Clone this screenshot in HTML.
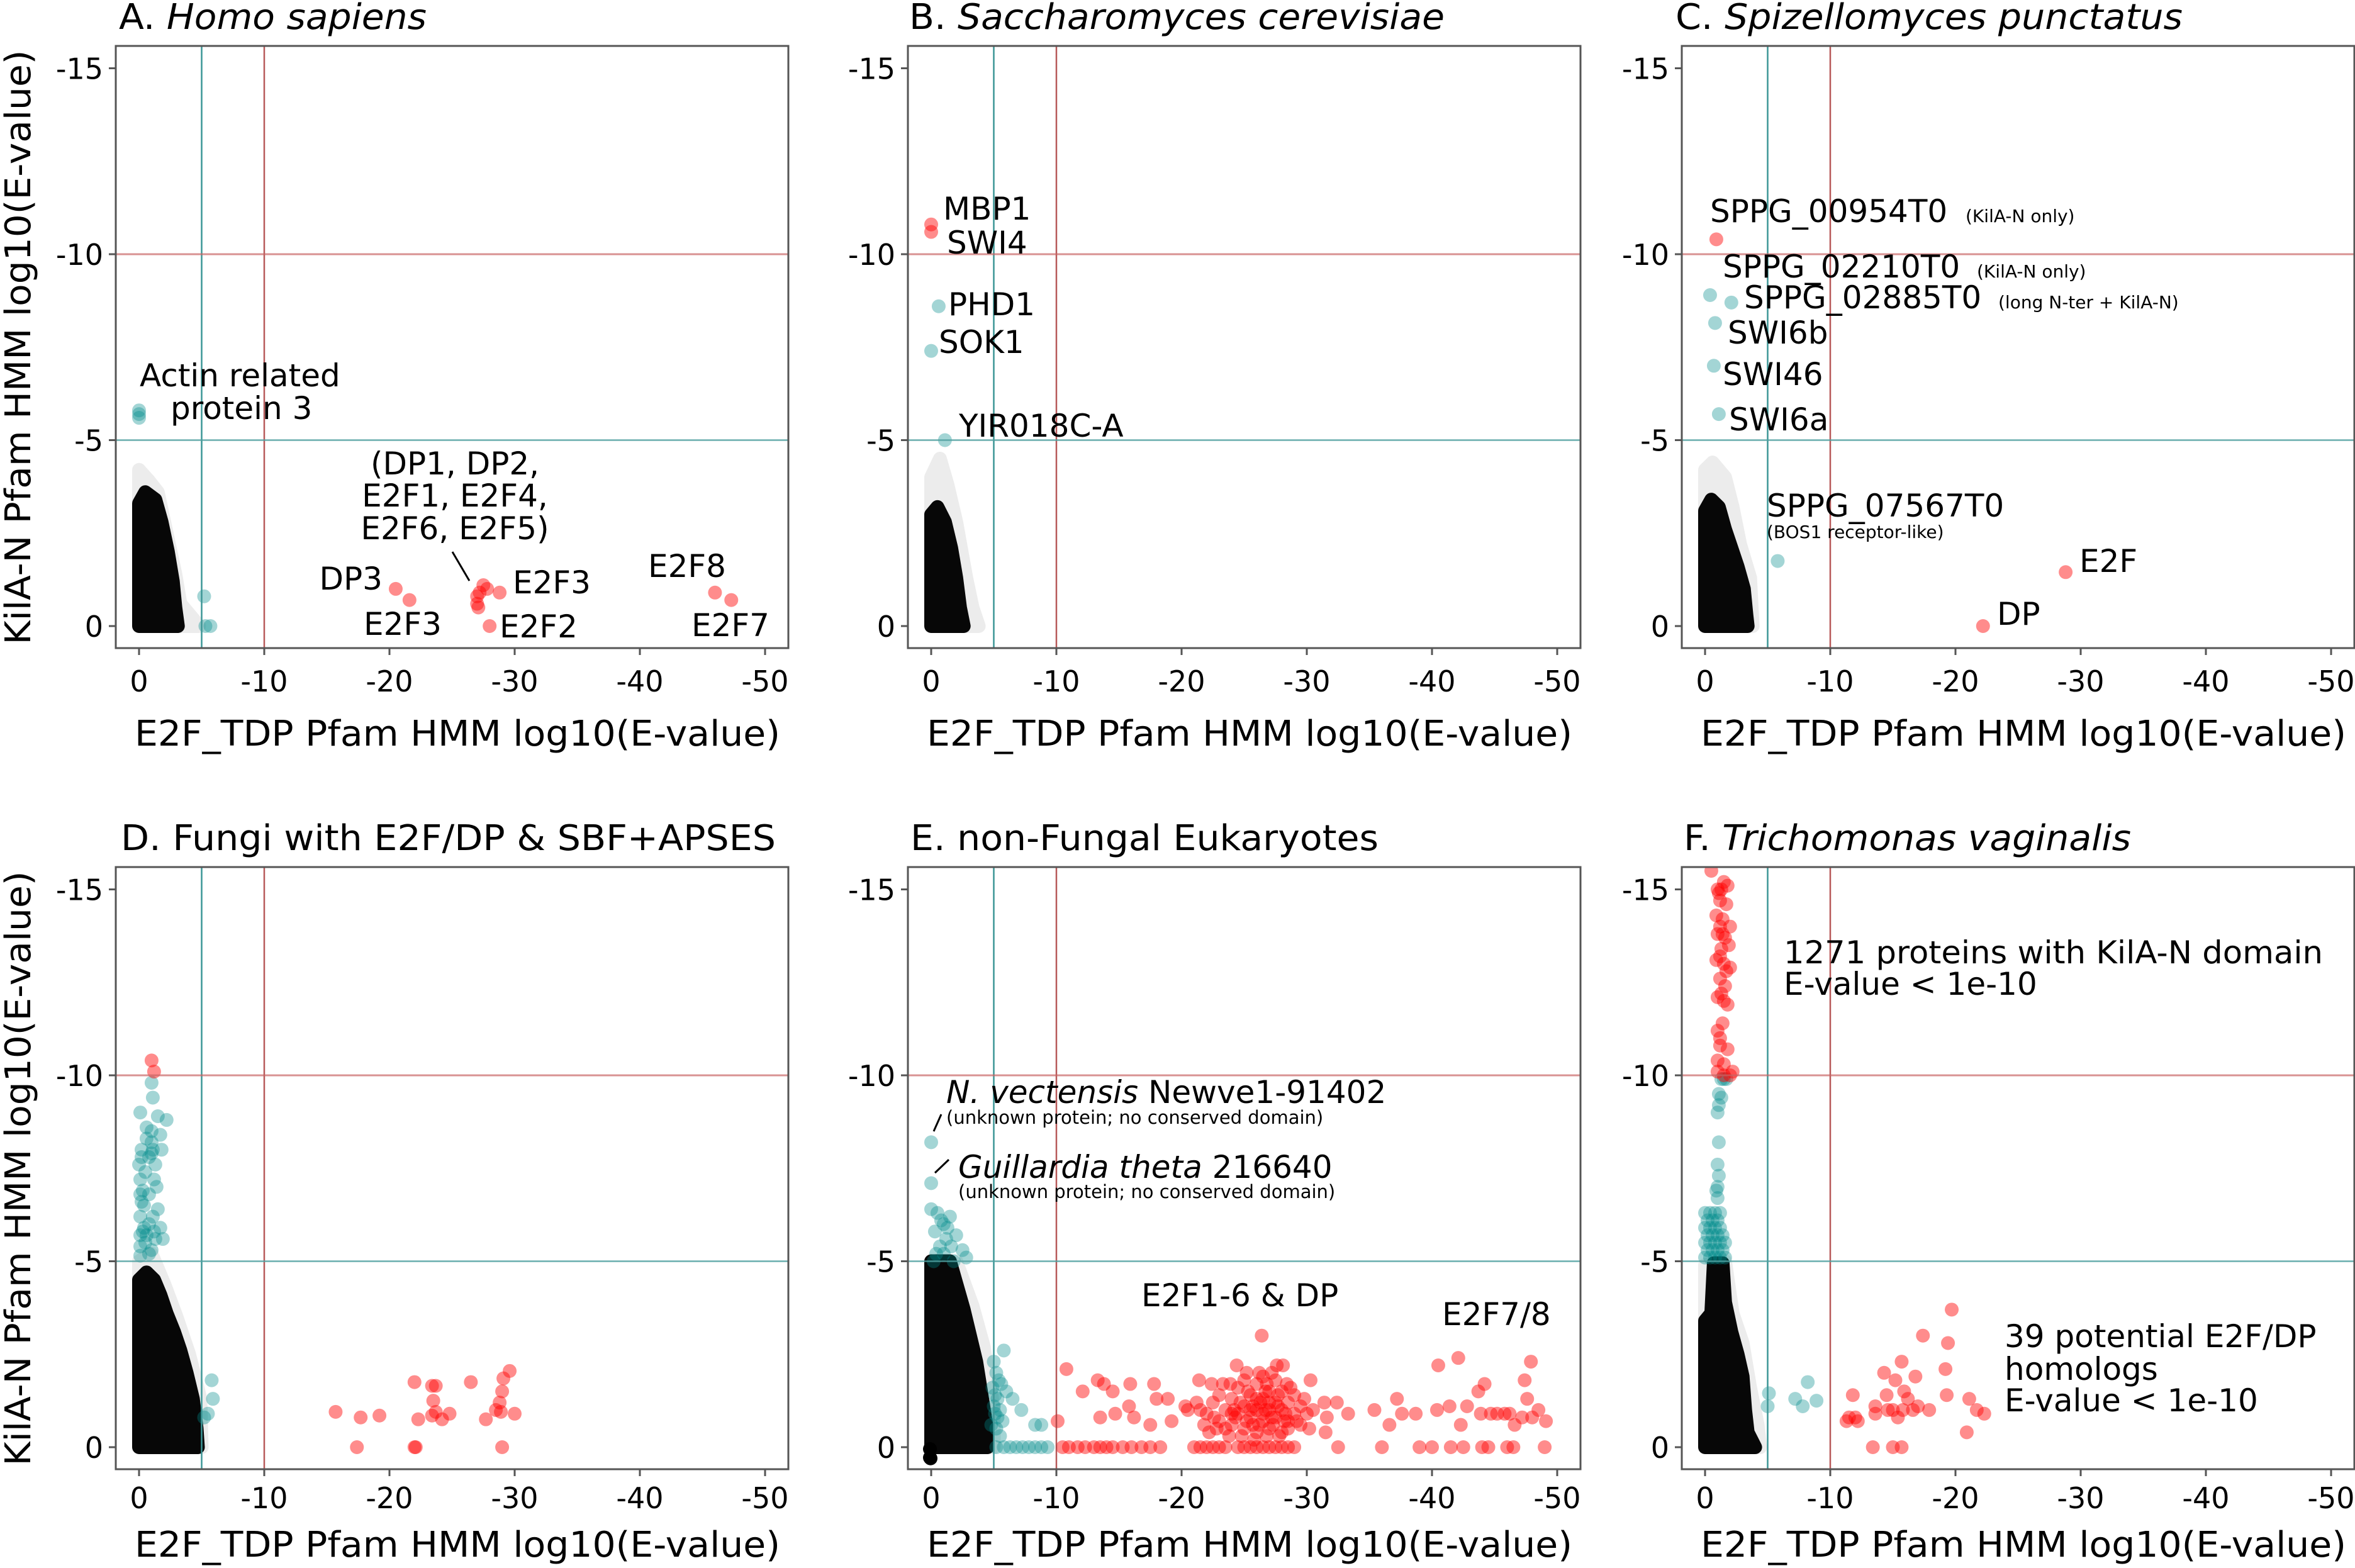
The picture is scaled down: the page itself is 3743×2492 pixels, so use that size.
<!DOCTYPE html>
<html><head><meta charset="utf-8">
<style>
html,body{margin:0;padding:0;background:#fff;}
svg{display:block;}
text{font-family:"DejaVu Sans","Liberation Sans",sans-serif;fill:#000;}
</style></head>
<body>
<svg id="fig" xmlns="http://www.w3.org/2000/svg" width="3743" height="2492" viewBox="0 0 3743 2492">
<rect x="0" y="0" width="3743" height="2492" fill="#fff"/>
<g id="marks"></g>
<g id="labels">
 <text x="189" y="46" font-size="56" textLength="489" lengthAdjust="spacingAndGlyphs">A. <tspan font-style="italic">Homo sapiens</tspan></text>
 <text x="1445" y="46" font-size="56" textLength="851" lengthAdjust="spacingAndGlyphs">B. <tspan font-style="italic">Saccharomyces cerevisiae</tspan></text>
 <text x="2663" y="46" font-size="56" textLength="806" lengthAdjust="spacingAndGlyphs">C. <tspan font-style="italic">Spizellomyces punctatus</tspan></text>
 <text x="192" y="1351" font-size="56" textLength="1041" lengthAdjust="spacingAndGlyphs">D. Fungi with E2F/DP &amp; SBF+APSES</text>
 <text x="1447" y="1351" font-size="56" textLength="744" lengthAdjust="spacingAndGlyphs">E. non-Fungal Eukaryotes</text>
 <text x="2676" y="1351" font-size="56" textLength="711" lengthAdjust="spacingAndGlyphs">F. <tspan font-style="italic">Trichomonas vaginalis</tspan></text>

 <text x="222" y="614" font-size="50">Actin related</text>
 <text x="271" y="666" font-size="50">protein 3</text>
 <text x="723" y="754" font-size="50" text-anchor="middle">(DP1, DP2,</text>
 <text x="723" y="805" font-size="50" text-anchor="middle">E2F1, E2F4,</text>
 <text x="723" y="857" font-size="50" text-anchor="middle">E2F6, E2F5)</text>
 <line x1="719" y1="877" x2="746" y2="923" stroke="#000" stroke-width="3"/>
 <text x="608" y="937" font-size="50" text-anchor="end">DP3</text>
 <text x="578" y="1009" font-size="50">E2F3</text>
 <text x="815" y="943" font-size="50">E2F3</text>
 <text x="794" y="1013" font-size="50">E2F2</text>
 <text x="1030" y="917" font-size="50">E2F8</text>
 <text x="1099" y="1011" font-size="50">E2F7</text>

 <text x="1499" y="349" font-size="50">MBP1</text>
 <text x="1505" y="403" font-size="50">SWI4</text>
 <text x="1507" y="501" font-size="50">PHD1</text>
 <text x="1492" y="561" font-size="50">SOK1</text>
 <text x="1524" y="694" font-size="50">YIR018C-A</text>

 <text x="2718" y="353" font-size="50">SPPG_00954T0</text>
 <text x="3124" y="353" font-size="28">(KilA-N only)</text>
 <text x="2738" y="441" font-size="50">SPPG_02210T0</text>
 <text x="3142" y="441" font-size="28">(KilA-N only)</text>
 <text x="2772" y="490" font-size="50">SPPG_02885T0</text>
 <text x="3176" y="490" font-size="28">(long N-ter + KilA-N)</text>
 <text x="2746" y="546" font-size="50">SWI6b</text>
 <text x="2738" y="612" font-size="50">SWI46</text>
 <text x="2748" y="684" font-size="50">SWI6a</text>
 <text x="2808" y="821" font-size="50">SPPG_07567T0</text>
 <text x="2808" y="855" font-size="28">(BOS1 receptor-like)</text>
 <text x="3305" y="909" font-size="50">E2F</text>
 <text x="3174" y="993" font-size="50">DP</text>

 <text x="1504" y="1753" font-size="50"><tspan font-style="italic">N. vectensis</tspan> Newve1-91402</text>
 <text x="1504" y="1786" font-size="29">(unknown protein; no conserved domain)</text>
 <line x1="1484" y1="1798" x2="1496" y2="1771" stroke="#000" stroke-width="3"/>
 <text x="1523" y="1872" font-size="50"><tspan font-style="italic">Guillardia theta</tspan> 216640</text>
 <text x="1523" y="1904" font-size="29">(unknown protein; no conserved domain)</text>
 <line x1="1486" y1="1864" x2="1508" y2="1843" stroke="#000" stroke-width="3"/>
 <text x="1814" y="2076" font-size="50">E2F1-6 &amp; DP</text>
 <text x="2292" y="2106" font-size="50">E2F7/8</text>

 <text x="2835" y="1531" font-size="50" textLength="857" lengthAdjust="spacingAndGlyphs">1271 proteins with KilA-N domain</text>
 <text x="2835" y="1581" font-size="50">E-value &lt; 1e-10</text>
 <text x="3186" y="2141" font-size="50">39 potential E2F/DP</text>
 <text x="3186" y="2193" font-size="50">homologs</text>
 <text x="3186" y="2243" font-size="50">E-value &lt; 1e-10</text>
</g>
</svg>
<script>
const xTickValues = [0, -10, -20, -30, -40, -50];
const yTickValues = [0, -5, -10, -15];
const thresholdTeal = -5;
const thresholdRed = -10;

const aCloudDense = [[0,-3.3],[-0.5,-3.6],[-1.3,-3.4],[-1.8,-2.8],[-2.3,-2.0],[-2.7,-1.2],[-2.9,-0.5],[-3.1,0]];
const aCloudFringe = [[0,-4.2],[-0.8,-3.9],[-1.5,-3.6],[-2.2,-2.5],[-2.9,-1.4],[-3.3,-0.6],[-4.8,0]];
const aTeal = [[0,-5.7],[0,-5.8],[0,-5.6],[-5.2,-0.8],[-5.3,0],[-5.7,0]];
const aRed = [[-20.5,-1.0],[-21.6,-0.7],[-27.0,-0.6],[-27.0,-0.8],[-27.2,-0.9],[-27.5,-1.1],[-27.1,-0.5],[-27.8,-1.0],[-28.8,-0.9],[-28.0,0],[-46.0,-0.9],[-47.3,-0.7]];

const bCloudDense = [[0,-3.0],[-0.5,-3.2],[-1.1,-2.8],[-1.6,-2.1],[-2.0,-1.3],[-2.3,-0.5],[-2.6,0]];
const bCloudFringe = [[0,-4.0],[-0.7,-4.5],[-1.3,-3.8],[-2.0,-2.8],[-2.8,-1.3],[-3.3,-0.5],[-3.8,0]];
const bTeal = [[-0.6,-8.6],[0,-7.4],[-1.1,-5.0]];
const bRed = [[0,-10.8],[0,-10.6]];

const cCloudDense = [[0,-3.1],[-0.5,-3.4],[-1.1,-3.2],[-1.6,-2.6],[-2.1,-2.1],[-2.6,-1.6],[-3.1,-1.0],[-3.3,-0.3],[-3.4,0]];
const cCloudFringe = [[0,-4.2],[-0.6,-4.4],[-1.6,-4.0],[-2.2,-3.2],[-2.8,-2.2],[-3.6,-1.3],[-3.8,0]];
const cTeal = [[-0.4,-8.9],[-2.1,-8.7],[-0.8,-8.15],[-0.7,-7.0],[-1.1,-5.7],[-5.8,-1.75]];
const cRed = [[-0.9,-10.4],[-28.8,-1.45],[-22.2,0]];

const dCloudDense = [[0,-4.5],[-0.6,-4.7],[-1.2,-4.5],[-1.7,-4.1],[-2.2,-3.6],[-2.8,-3.1],[-3.3,-2.6],[-3.8,-2.0],[-4.3,-1.3],[-4.6,-0.5],[-4.7,0]];
const dCloudFringe = [[0,-5.0],[-1.0,-5.2],[-2.0,-4.4],[-3.0,-3.5],[-4.0,-2.5],[-4.9,-1.3],[-5.0,0]];
const dTeal = [[-1.0,-9.8],[-1.1,-9.4],[-0.1,-9.0],[-1.5,-8.9],[-2.2,-8.8],[-0.6,-8.6],[-1.7,-8.4],[-1.0,-8.2],[-0.2,-8.0],[-1.8,-8.0],[-0.8,-7.8],[0,-7.6],[-1.3,-7.6],[-0.1,-7.2],[-1.4,-7.0],[-0.1,-6.8],[-0.8,-6.8],[-0.4,-6.5],[-1.5,-6.4],[-0.1,-6.2],[-0.8,-6.0],[-1.7,-5.9],[-0.1,-5.7],[-0.6,-5.7],[-1.3,-5.6],[-1.9,-5.6],[-0.1,-5.4],[-0.8,-5.2],[-0.1,-5.15],[-1.0,-8.5],[-0.5,-7.4],[-0.3,-6.9],[-1.1,-6.2],[-0.4,-5.9],[-1.0,-5.3],[-0.6,-8.3],[-1.2,-7.2],[-0.2,-7.8],[-1.0,-7.9],[-0.3,-5.8],[-0.5,-5.5],[-1.2,-5.8],[-0.2,-6.6],[-1.1,-8.0],[-5.8,-1.8],[-5.9,-1.3],[-5.5,-0.9],[-5.2,-0.8]];
const dRed = [[-1.0,-10.4],[-1.2,-10.1],[-15.7,-0.95],[-17.4,0],[-17.7,-0.8],[-19.2,-0.85],[-22.0,-1.75],[-22.1,0],[-22.0,0],[-22.3,-0.75],[-23.4,-1.65],[-23.7,-1.65],[-23.5,-1.25],[-23.4,-0.85],[-23.7,-0.95],[-24.2,-0.75],[-24.8,-0.9],[-26.5,-1.75],[-27.7,-0.75],[-28.5,-1.0],[-28.8,-1.2],[-29.0,-1.5],[-29.1,-1.85],[-29.6,-2.05],[-29.0,0],[-28.9,-0.95],[-30.0,-0.9]];

const eCloudDense = [[0,-5.0],[-1.5,-5.0],[-2.6,-3.7],[-3.6,-2.3],[-4.4,-0.6],[-4.5,0]];
const eCloudFringe = [[0,-5.0],[-2.0,-5.0],[-3.3,-3.8],[-4.2,-2.7],[-5.0,-1.0],[-5.0,0]];
const eBlack = [[0.1,0.28],[0.1,0.05],[0.05,0.3]];
const eTeal = [[0,-8.2],[0,-7.1],[0,-6.4],[-0.5,-6.3],[-1.0,-6.0],[-1.5,-6.2],[-0.3,-5.8],[-1.2,-5.6],[-0.7,-5.4],[-2.5,-5.3],[-2.8,-5.1],[-0.2,-5.0],[-1.8,-5.0],[-1.0,-5.2],[-2.0,-5.7],[-0.8,-6.1],[-1.6,-5.4],[-0.4,-5.2],[-1.3,-5.9],[-5.0,-2.3],[-5.8,-2.6],[-5.2,-2.0],[-5.6,-1.7],[-6.0,-1.5],[-5.3,-1.3],[-5.5,-1.0],[-5.1,-0.9],[-5.7,-0.7],[-5.2,-0.5],[-6.5,-1.3],[-7.2,-1.0],[-8.3,-0.6],[-8.8,-0.6],[-5.5,-0.3],[-4.9,-1.6],[-5.0,-1.1],[-4.8,-0.6],[-5.4,-1.8],[-5.1,-1.4],[-5.3,-0.8],[-5.8,0],[-6.3,0],[-6.8,0],[-7.3,0],[-7.8,0],[-8.3,0],[-8.8,0],[-9.3,0],[-5.2,0]];
const eRed = [[-10.8,-2.1],[-10.1,-0.7],[-12.1,-1.5],[-13.3,-1.8],[-13.5,-0.8],[-13.8,-1.7],[-14.5,-1.5],[-14.7,-0.9],[-15.9,-1.7],[-15.8,-1.1],[-16.2,-0.8],[-17.5,-0.6],[-17.8,-1.7],[-18.0,-1.3],[-18.9,-1.3],[-19.2,-0.7],[-20.3,-1.1],[-21.4,-1.8],[-22.4,-1.7],[-22.6,-0.8],[-23.9,-1.7],[-24.4,-2.2],[-26.4,-3.0],[-27.6,-2.2],[-28.1,-2.2],[-28.4,-1.7],[-30.3,-1.8],[-31.4,-1.2],[-32.4,-1.2],[-33.3,-0.9],[-31.6,-0.8],[-31.5,-0.4],[-35.4,-1.0],[-36.6,-0.6],[-37.2,-1.3],[-37.6,-0.9],[-38.7,-0.9],[-40.5,-2.2],[-42.1,-2.4],[-40.4,-1.0],[-41.4,-1.1],[-42.3,-0.6],[-42.8,-1.1],[-43.7,-1.5],[-44.2,-1.7],[-43.9,-0.9],[-44.7,-0.9],[-45.8,-0.9],[-46.6,-0.6],[-47.4,-1.8],[-47.9,-2.3],[-47.6,-1.3],[-48.5,-1.0],[-49.1,-0.7],[-47.2,-0.8],[-45.2,-0.9],[-46.2,-0.9],[-48.0,-0.8],
 [-21.5,-1.0],[-22.0,-0.9],[-22.5,-1.2],[-23.0,-0.7],[-23.0,-1.4],[-23.5,-1.0],[-24.0,-0.6],[-24.0,-1.3],[-24.5,-0.9],[-24.5,-1.6],[-25.0,-0.5],[-25.0,-1.1],[-25.0,-1.8],[-25.5,-0.8],[-25.5,-1.4],[-26.0,-0.4],[-26.0,-1.0],[-26.0,-1.7],[-26.5,-0.7],[-26.5,-1.3],[-26.5,-1.9],[-27.0,-0.5],[-27.0,-1.0],[-27.0,-1.5],[-27.5,-0.8],[-27.5,-1.2],[-27.5,-1.8],[-28.0,-0.4],[-28.0,-1.0],[-28.0,-1.5],[-28.5,-0.7],[-28.5,-1.2],[-29.0,-0.9],[-29.0,-1.4],[-29.5,-0.6],[-29.5,-1.1],[-30.0,-0.9],[-30.5,-1.0],[-23.8,-0.3],[-24.8,-0.3],[-25.8,-0.2],[-26.8,-0.3],[-27.8,-0.3],[-22.8,-0.5],[-21.8,-0.6],[-25.3,-1.5],[-26.3,-1.2],[-27.3,-0.6],[-28.3,-0.9],[-24.2,-1.0],[-25.7,-0.6],[-26.7,-1.5],[-27.7,-1.1],[-28.7,-1.6],[-23.3,-1.7],[-29.8,-1.3],[-30.2,-0.5],[-21.2,-1.2],[-20.5,-1.0],[-22.2,-0.4],[-26.2,-2.0],[-27.2,-2.0],[-25.2,-2.0],
 [-24.3,-0.8],[-25.2,-0.7],[-26.2,-0.6],[-27.2,-0.8],[-28.2,-0.7],[-24.7,-1.2],[-25.7,-1.1],[-26.7,-1.0],[-27.7,-1.4],[-26.0,-1.3],[-27.0,-1.2],[-25.5,-1.0],[-26.5,-0.9],[-28.5,-0.5],[-24.0,-0.9],[-23.5,-0.5],[-29.2,-0.7],[-26.8,-1.7],
 [-10.5,0],[-11.0,0],[-11.7,0],[-12.3,0],[-13.0,0],[-13.5,0],[-14.0,0],[-14.5,0],[-15.3,0],[-16.0,0],[-16.8,0],[-17.5,0],[-18.3,0],[-21.0,0],[-21.5,0],[-22.0,0],[-22.5,0],[-23.0,0],[-23.5,0],[-24.5,0],[-25.0,0],[-25.5,0],[-26.0,0],[-26.5,0],[-27.0,0],[-27.5,0],[-28.0,0],[-28.5,0],[-29.0,0],[-32.5,0],[-36.0,0],[-39.0,0],[-40.0,0],[-41.5,0],[-42.5,0],[-44.0,0],[-44.5,0],[-46.0,0],[-46.5,0],[-49.0,0]];

const fCloudDense = [[0,-3.4],[-0.5,-3.6],[-0.7,-4.95],[-1.4,-4.95],[-1.6,-3.9],[-2.1,-3.1],[-2.6,-2.5],[-3.0,-1.9],[-3.2,-1.0],[-3.4,-0.4],[-4.0,0]];
const fCloudFringe = [[0,-4.9],[-1.6,-5.0],[-2.2,-3.6],[-3.0,-2.8],[-3.6,-1.6],[-4.2,-0.6],[-4.4,0]];
const fTeal = [[0,-5.1],[-0.4,-5.1],[-0.8,-5.1],[-1.2,-5.1],[-1.6,-5.1],[0,-5.5],[-0.4,-5.5],[-0.8,-5.5],[-1.2,-5.5],[-1.6,-5.5],[0,-5.9],[-0.4,-5.9],[-0.8,-5.9],[-1.2,-5.9],[0,-6.3],[-0.4,-6.3],[-0.8,-6.3],[-1.2,-6.3],[-0.2,-5.3],[-0.6,-5.3],[-1.0,-5.3],[-1.4,-5.3],[-0.2,-5.7],[-0.6,-5.7],[-1.0,-5.7],[-1.4,-5.7],[-0.2,-6.1],[-0.6,-6.1],[-1.0,-6.1],[-1.0,-6.7],[-0.9,-6.9],[-1.0,-7.0],[-1.1,-7.3],[-1.0,-7.6],[-1.1,-8.2],[-1.0,-9.0],[-1.1,-9.2],[-1.3,-9.4],[-1.1,-9.5],[-1.5,-9.9],[-1.3,-9.9],[-1.7,-9.9],[-5.1,-1.45],[-5.0,-1.1],[-7.2,-1.3],[-7.8,-1.1],[-8.2,-1.75],[-8.9,-1.25]];
const fRed = [[-0.5,-15.5],[-1.0,-15.0],[-1.5,-15.2],[-1.8,-15.1],[-1.2,-14.7],[-1.7,-14.6],[-0.9,-14.3],[-1.4,-14.2],[-2.0,-14.0],[-1.0,-13.8],[-1.6,-13.7],[-1.3,-13.4],[-1.9,-13.5],[-0.9,-13.1],[-1.5,-13.0],[-2.0,-12.9],[-1.2,-12.6],[-1.6,-12.4],[-1.0,-12.1],[-1.5,-12.0],[-1.8,-11.9],[-1.4,-11.4],[-1.0,-11.2],[-1.2,-10.8],[-1.8,-10.7],[-1.0,-10.4],[-1.5,-10.3],[-1.0,-10.1],[-1.5,-10.0],[-2.0,-10.0],[-2.2,-10.1],[-1.2,-11.0],[-1.7,-12.8],[-1.1,-14.9],[-1.3,-15.0],[-1.2,-14.0],[-1.4,-13.8],[-1.2,-13.2],[-1.3,-12.2],
 [-19.7,-3.7],[-17.4,-3.0],[-19.4,-2.8],[-15.7,-2.3],[-14.3,-2.0],[-16.8,-1.9],[-15.2,-1.8],[-19.2,-2.1],[-15.9,-1.5],[-11.8,-1.4],[-14.5,-1.4],[-16.2,-1.3],[-13.6,-1.1],[-17.0,-1.1],[-19.3,-1.4],[-21.1,-1.3],[-21.7,-1.0],[-22.3,-0.9],[-17.9,-1.0],[-15.0,-1.0],[-15.8,-1.0],[-11.5,-0.8],[-12.2,-0.7],[-11.3,-0.7],[-13.6,-0.9],[-15.4,-0.8],[-14.6,-1.0],[-16.6,-1.0],[-20.9,-0.4],[-13.4,0],[-15.0,0],[-15.7,0],[-12.0,-0.8]];

const UX = 19.9, UY = 59.1, R = 11;
const panels = [
 {id:'a', x0:221, y0:995, dense:aCloudDense, fringe:aCloudFringe, black:[], teal:aTeal, red:aRed, titleY:1185, tickY:1099},
 {id:'b', x0:1480, y0:995, dense:bCloudDense, fringe:bCloudFringe, black:[], teal:bTeal, red:bRed, titleY:1185, tickY:1099},
 {id:'c', x0:2710, y0:995, dense:cCloudDense, fringe:cCloudFringe, black:[], teal:cTeal, red:cRed, titleY:1185, tickY:1099},
 {id:'d', x0:221, y0:2300, dense:dCloudDense, fringe:dCloudFringe, black:[], teal:dTeal, red:dRed, titleY:2474, tickY:2397},
 {id:'e', x0:1480, y0:2300, dense:eCloudDense, fringe:eCloudFringe, black:eBlack, teal:eTeal, red:eRed, titleY:2474, tickY:2397},
 {id:'f', x0:2710, y0:2300, dense:fCloudDense, fringe:fCloudFringe, black:[], teal:fTeal, red:fRed, titleY:2474, tickY:2397}
];
const NS = 'http://www.w3.org/2000/svg';
const layer = document.getElementById('marks');
function mk(tag, attrs, parent){
  const el = document.createElementNS(NS, tag);
  for (const k in attrs) el.setAttribute(k, attrs[k]);
  (parent||layer).appendChild(el);
  return el;
}
function sx(p, v){ return p.x0 - v*UX; }
function sy(p, v){ return p.y0 + v*UY; }

panels.forEach(p => {
  const left = p.x0 - 37, right = Math.min(p.x0 + 1032, 3742), top = p.y0 - 922, bottom = p.y0 + 35;
  const g = mk('g', {});
  
  
  const cp = mk('clipPath', {id:'clip-' + p.id}, g);
  mk('rect', {x:left, y:top, width:right-left, height:bottom-top}, cp);
  const plot = mk('g', {'clip-path':'url(#clip-' + p.id + ')'}, g);
  
  

  function cloud(env, op, name){
    const pts = [[0,0]].concat(env).concat([[env[env.length-1][0],0]]);
    const d = pts.map(q => sx(p,q[0]).toFixed(1) + ',' + sy(p,q[1]).toFixed(1)).join(' ');
    const poly = mk('polygon', {points:d, fill:'#000', stroke:'#000', 'stroke-width':2*R, 'stroke-linejoin':'round', opacity:op}, plot);
    
    
  }
  cloud(p.fringe, 0.07, 'background-cloud-fringe-' + p.id);
  cloud(p.dense, 0.97, 'background-cloud-' + p.id);

  p.black.forEach(q => {
    const c = mk('circle', {cx:sx(p,q[0]), cy:sy(p,q[1]), r:R, fill:'#000'}, plot);
    
    
  });
  p.teal.forEach(q => {
    const c = mk('circle', {cx:sx(p,q[0]), cy:sy(p,q[1]), r:R, fill:'rgb(0,139,139)', 'fill-opacity':0.36}, plot);
    
    
  });
  p.red.forEach(q => {
    const c = mk('circle', {cx:sx(p,q[0]), cy:sy(p,q[1]), r:R, fill:'rgb(255,0,0)', 'fill-opacity':0.45}, plot);
    
    
  });

  const vt = mk('line', {x1:sx(p,thresholdTeal), x2:sx(p,thresholdTeal), y1:top, y2:bottom, stroke:'rgb(60,150,150)', 'stroke-width':2.5}, plot);
  
  
  const vr = mk('line', {x1:sx(p,thresholdRed), x2:sx(p,thresholdRed), y1:top, y2:bottom, stroke:'rgb(170,60,60)', 'stroke-width':2.5, 'stroke-opacity':0.85}, plot);
  
  
  const hr = mk('line', {x1:left, x2:right, y1:sy(p,thresholdRed), y2:sy(p,thresholdRed), stroke:'rgb(200,100,100)', 'stroke-width':3, 'stroke-opacity':0.7}, plot);
  
  
  const ht = mk('line', {x1:left, x2:right, y1:sy(p,thresholdTeal), y2:sy(p,thresholdTeal), stroke:'rgb(80,160,160)', 'stroke-width':2.5, 'stroke-opacity':0.85}, plot);
  
  

  const fr = mk('rect', {x:left, y:top, width:right-left, height:bottom-top, fill:'none', stroke:'#555', 'stroke-width':3}, g);
  
  

  xTickValues.forEach(v => {
    const x = sx(p, v);
    const t = mk('line', {x1:x, x2:x, y1:bottom, y2:bottom+11, stroke:'#555', 'stroke-width':3}, g);
    
    
    const lb = mk('text', {x:x, y:p.tickY, 'font-size':46, 'text-anchor':'middle'}, g);
    lb.textContent = String(v);
    
    
  });
  yTickValues.forEach(v => {
    const y = sy(p, v);
    const t = mk('line', {x1:left-11, x2:left, y1:y, y2:y, stroke:'#555', 'stroke-width':3}, g);
    
    
    const lb = mk('text', {x:left-20, y:y+17, 'font-size':46, 'text-anchor':'end'}, g);
    lb.textContent = String(v);
    
    
  });
  const xt = mk('text', {x:p.x0 + 506, y:p.titleY, 'font-size':56, 'text-anchor':'middle', textLength:1026, lengthAdjust:'spacingAndGlyphs'}, g);
  xt.textContent = 'E2F_TDP Pfam HMM log10(E-value)';
  
  
  if (p.id === 'a' || p.id === 'd') {
    const cy = p.y0 - 443;
    const yt = mk('text', {x:0, y:0, 'font-size':56, 'text-anchor':'middle', textLength:945, lengthAdjust:'spacingAndGlyphs', transform:'translate(48,' + cy + ') rotate(-90)'}, g);
    yt.textContent = 'KilA-N Pfam HMM log10(E-value)';
    
    
  }
});
</script>
</body></html>
